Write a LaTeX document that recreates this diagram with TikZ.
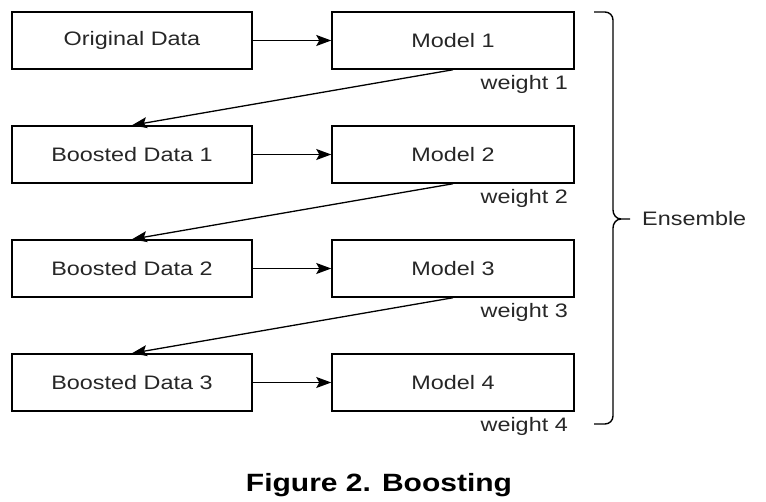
\documentclass[tikz,border=0pt]{standalone}
\usepackage{fontspec}
\setmainfont{Liberation Sans}[FakeStretch=1.2]
\usetikzlibrary{arrows.meta}
\tikzset{
  box/.style={draw=black, line width=1.5pt, minimum height=57pt, inner sep=0pt, font=\fontsize{19.5}{22}\selectfont, text=black!85},
  databox/.style={box, minimum width=240pt},
  modelbox/.style={box, minimum width=242pt},
  flow/.style={line width=1.3pt, -{Stealth[length=15pt,width=11pt,inset=3pt]}},
  wlabel/.style={anchor=base east, inner sep=0pt, font=\fontsize{19.5}{22}\selectfont, text=black!85},
  brace/.style={line width=1.4pt}
}
\begin{document}
\begin{tikzpicture}[x=1pt,y=-1pt]
\useasboundingbox (0,0) rectangle (766,502);
\node[databox] (d0) at (132,40.5) {Original Data};
\node[databox] (d1) at (132,154.5) {Boosted Data 1};
\node[databox] (d2) at (132,268.5) {Boosted Data 2};
\node[databox] (d3) at (132,382.5) {Boosted Data 3};
\node[modelbox] (m1) at (453,40.5) {Model 1};
\node[modelbox] (m2) at (453,154.5) {Model 2};
\node[modelbox] (m3) at (453,268.5) {Model 3};
\node[modelbox] (m4) at (453,382.5) {Model 4};
\node[wlabel] (w1) at (568,90) {weight 1};
\node[wlabel] (w2) at (568,204) {weight 2};
\node[wlabel] (w3) at (568,318) {weight 3};
\node[wlabel] (w4) at (568,432) {weight 4};
\draw[flow] (d0) -- (m1);
\draw[flow] (d1) -- (m2);
\draw[flow] (d2) -- (m3);
\draw[flow] (d3) -- (m4);
\draw[flow] (m1.south) -- (d1.north);
\draw[flow] (m2.south) -- (d2.north);
\draw[flow] (m3.south) -- (d3.north);
\coordinate (bt) at (594,12);
\coordinate (bb) at (594,424);
\coordinate (tip) at (630,219);
\draw[brace] (bt) -- (605,12) to[out=0,in=90] (613,20) -- (613,210) to[out=-90,in=180] (621,219) -- (tip);
\draw[brace] (621,219) to[out=180,in=90] (613,228) -- (613,416) to[out=-90,in=0] (605,424) -- (bb);
\node[anchor=west, inner sep=0pt, font=\fontsize{19.5}{22}\selectfont, text=black!85] (ens) at (642,219) {Ensemble};
\node[anchor=base, inner sep=0pt, font=\fontsize{25}{28}\selectfont\bfseries] (cap) at (379,492) {Figure 2. Boosting};
\end{tikzpicture}
\end{document}
